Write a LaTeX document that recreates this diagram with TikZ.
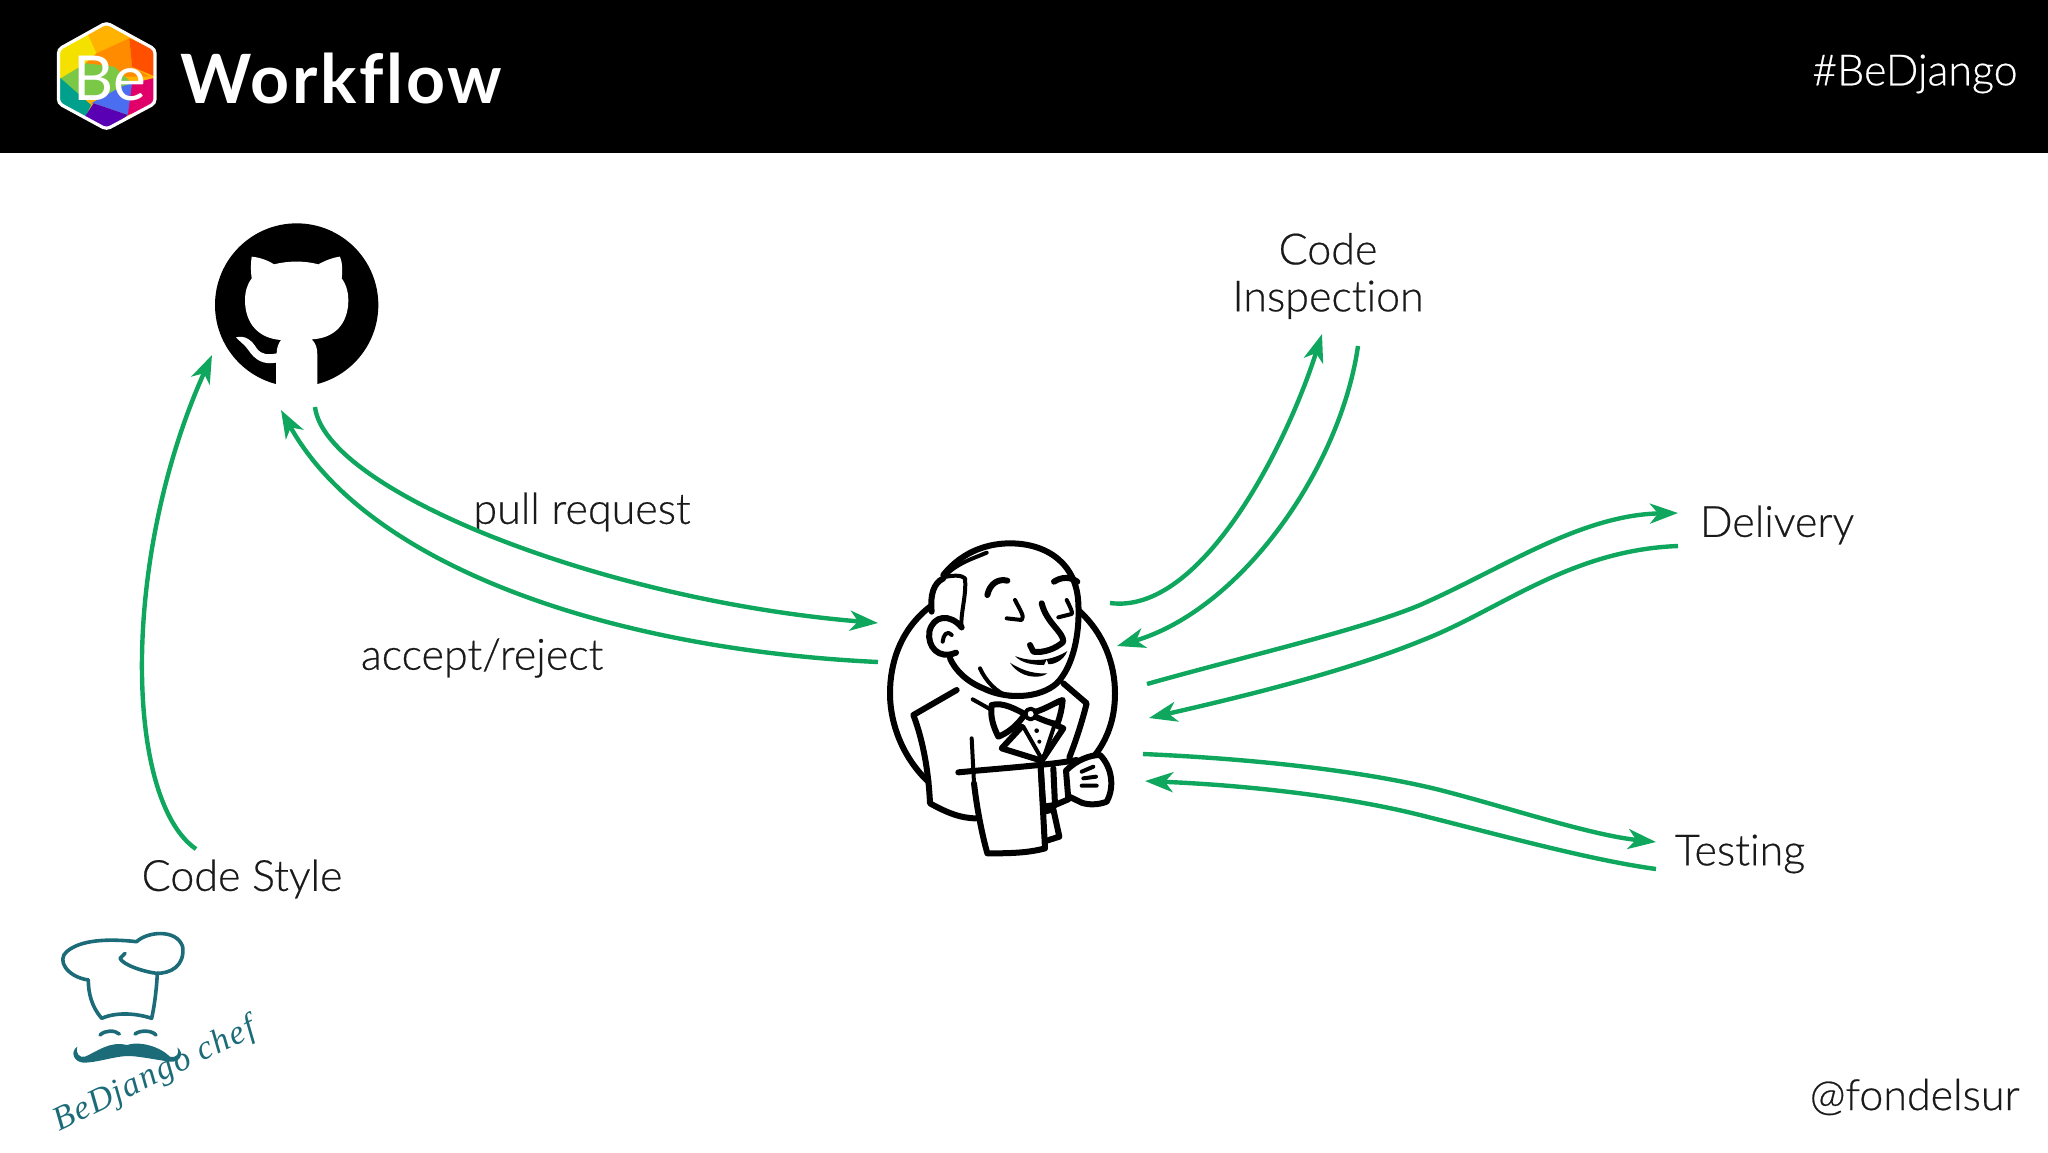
\documentclass[tikz,border=0pt]{standalone}
\usepackage{fontspec}
\setmainfont[Ligatures=NoCommon,FakeBold=0.5]{Lato Light}
\newfontfamily\titlefont[Ligatures=NoCommon,LetterSpace=4]{Lato Bold}
\newfontfamily\badgefont[Ligatures=NoCommon]{Lato}
\newfontfamily\cheffont[LetterSpace=5]{Liberation Serif}
\usetikzlibrary{arrows.meta}
\definecolor{ink}{HTML}{1A1A1A}
\definecolor{flow}{HTML}{0FA65E}
\definecolor{chef}{HTML}{1B6B78}
\tikzset{
  flowline/.style={draw=flow, line width=2.2pt, -{Stealth[length=14pt,width=10pt,inset=4pt]}},
  lbl/.style={text=ink, font=\fontsize{21.5}{23.5}\selectfont, inner sep=0pt, align=center},
  headlbl/.style={text=white, font=\fontsize{21.5}{23.5}\selectfont, inner sep=0pt},
  butler/.style={draw=black, line width=3pt, line cap=round, line join=round},
  butlerthin/.style={draw=black, line width=2pt, line cap=round, line join=round},
  hatline/.style={draw=chef, line width=1.8pt, line cap=round, line join=round}
}
\begin{document}
\begin{tikzpicture}[x=0.5pt,y=-0.5pt]
  \useasboundingbox (0,0) rectangle (2048,1152);
  \fill[black] (0,0) rectangle (2048,153);

  % rainbow badge
  \begin{scope}[xscale=1/2.8,yscale=1/3]
    \clip (298,68) -- (435,148) -- (435,310) -- (298,388) -- (162,310) -- (162,148) -- cycle;
    \fill[color={rgb,255:red,255;green,179;blue,0}] (150,50) rectangle (450,400);
    \fill[color={rgb,255:red,245;green,225;blue,0}] (150,150) -- (240,90) -- (270,160) -- (240,190) -- (170,235) -- (150,225) -- cycle;
    \fill[color={rgb,255:red,255;green,140;blue,0}] (270,160) -- (362,115) -- (370,200) -- (420,230) -- (300,230) -- (240,190) -- cycle;
    \fill[color={rgb,255:red,255;green,80;blue,0}] (362,115) -- (440,150) -- (440,232) -- (370,200) -- cycle;
    \fill[color={rgb,255:red,122;green,200;blue,70}] (170,235) -- (240,190) -- (320,200) -- (370,250) -- (340,290) -- (215,290) -- cycle;
    \fill[color={rgb,255:red,0;green,160;blue,140}] (150,225) -- (170,235) -- (255,315) -- (240,350) -- (150,320) -- cycle;
    \fill[color={rgb,255:red,75;green,110;blue,240}] (255,310) -- (340,260) -- (370,250) -- (375,300) -- (358,345) -- (262,310) -- cycle;
    \fill[color={rgb,255:red,90;green,0;blue,180}] (262,310) -- (358,345) -- (298,395) -- (235,355) -- cycle;
    \fill[color={rgb,255:red,225;green,0;blue,105}] (370,250) -- (440,232) -- (440,315) -- (358,345) -- cycle;
  \end{scope}
  \draw[white, line width=1.6pt, line join=round, rounded corners=2pt] (106.4,22.7) -- (155,49.3) -- (155,103.3) -- (106.4,129.3) -- (58.5,103.3) -- (58.5,49.3) -- cycle;
  \node[text=white, font=\badgefont\fontsize{31}{31}\selectfont, inner sep=0pt] (badge) at (110,78) {Be};

  \node[text=white, font=\titlefont\fontsize{34}{36}\selectfont, inner sep=0pt, anchor=west] (title) at (180,78) {Workflow};
  \node[headlbl, anchor=east] (tag) at (2018,74) {\#BeDjango};
  \node[lbl, anchor=east] (handle) at (2020,1097) {@fondelsur};

  % github mark
  \begin{scope}[shift={(200,210)},scale=1/3]
    \fill[black] (290,285) circle (245);
    \fill[white] (155,140) .. controls (180,142) and (205,152) .. (222,163)
      .. controls (265,152) and (315,152) .. (355,163)
      .. controls (375,152) and (400,142) .. (420,140)
      .. controls (428,160) and (428,185) .. (425,205)
      .. controls (440,225) and (445,250) .. (445,270)
      .. controls (445,340) and (405,385) .. (335,388)
      .. controls (348,400) and (352,415) .. (352,435)
      -- (352,540) -- (228,540) -- (228,458)
      .. controls (190,465) and (165,450) .. (145,420)
      .. controls (135,405) and (120,395) .. (108,382)
      .. controls (135,375) and (155,390) .. (170,415)
      .. controls (185,435) and (205,435) .. (230,430)
      .. controls (230,415) and (235,400) .. (243,390)
      .. controls (175,385) and (135,340) .. (135,270)
      .. controls (135,245) and (142,222) .. (155,205)
      .. controls (152,185) and (152,160) .. (155,140) -- cycle;
  \end{scope}

  % jenkins butler
  \begin{scope}[shift={(850,520)},scale=1/3]
    \draw[butler] (240,260) .. controls (150,330) and (120,430) .. (120,520)
      .. controls (120,620) and (165,720) .. (235,785);
    \draw[butler] (690,275) .. controls (760,340) and (795,430) .. (795,520)
      .. controls (795,600) and (770,660) .. (735,705);
    \draw[butler] (280,165) .. controls (340,90) and (420,70) .. (480,70)
      .. controls (590,70) and (680,130) .. (685,250)
      .. controls (690,340) and (670,440) .. (620,490)
      .. controls (570,535) and (470,540) .. (400,505)
      .. controls (350,485) and (315,450) .. (300,415);
    \draw[butlerthin] (285,168) .. controls (320,130) and (370,115) .. (410,98);
    \draw[butler] (280,175) .. controls (250,190) and (240,225) .. (245,275);
    \draw[butlerthin] (280,172) .. controls (310,165) and (335,165) .. (345,175)
      .. controls (350,230) and (330,280) .. (335,325);
    \draw[butler] (335,322) .. controls (300,280) and (250,285) .. (238,335)
      .. controls (232,380) and (265,420) .. (318,398);
    \draw[butlerthin] (278,365) .. controls (280,345) and (290,330) .. (305,345);
    \draw[butler] (412,225) .. controls (420,190) and (445,175) .. (472,182);
    \draw[butler] (612,185) .. controls (635,170) and (660,170) .. (682,185);
    \draw[butlerthin] (495,240) .. controls (510,270) and (525,290) .. (515,300) -- (470,295);
    \draw[butlerthin] (650,240) .. controls (660,260) and (670,280) .. (665,282) -- (625,292);
    \draw[butler] (575,250) .. controls (590,310) and (640,335) .. (640,365)
      .. controls (620,385) and (580,400) .. (550,395) -- (540,375);
    \fill[black] (495,408) .. controls (550,430) and (610,420) .. (652,393)
      .. controls (640,425) and (605,435) .. (595,432) -- (590,418) -- (582,435)
      .. controls (550,435) and (515,430) .. (495,408) -- cycle;
    \fill[black] (480,428) .. controls (520,455) and (560,462) .. (592,460)
      .. controls (570,478) and (510,475) .. (480,428) -- cycle;
    \draw[butlerthin] (390,445) .. controls (405,480) and (440,520) .. (480,530);
    % suit
    \draw[butler] (320,510) -- (190,585) .. controls (215,650) and (235,740) .. (240,850)
      .. controls (285,875) and (330,895) .. (378,895);
    \draw[butlerthin] (368,538) -- (425,570);
    \draw[butler] (640,490) -- (710,550) .. controls (695,610) and (675,670) .. (658,712);
    \draw[butler] (425,555) .. controls (460,545) and (500,570) .. (525,582)
      .. controls (500,620) and (470,640) .. (445,650)
      .. controls (430,620) and (420,590) .. (425,555) -- cycle;
    \draw[butler] (558,575) .. controls (590,565) and (620,545) .. (638,540)
      .. controls (635,570) and (630,590) .. (622,612)
      .. controls (600,610) and (580,600) .. (560,592);
    \draw[butlerthin] (542,582) circle (16);
    \draw[butlerthin] (520,620) -- (578,722) -- (612,620);
    \fill[black] (560,632) circle (7) (568,665) circle (6);
    \draw[butler] (515,620) -- (455,685) -- (575,722) -- (640,625) -- (610,612);
    % towel and hand
    \draw[butler] (325,757) .. controls (450,745) and (600,735) .. (680,720);
    \draw[butlerthin] (365,655) -- (372,790);
    \draw[butler] (372,790) .. controls (380,860) and (395,940) .. (412,1000)
      .. controls (470,1000) and (530,1000) .. (585,985) -- (572,740);
    \draw[butler] (572,740) -- (580,860) -- (615,855) -- (610,745);
    \draw[butler] (615,855) -- (655,838) -- (648,752);
    \draw[butler] (650,750) .. controls (680,720) and (720,705) .. (750,705)
      .. controls (785,740) and (795,800) .. (770,845)
      .. controls (745,855) and (715,855) .. (695,848) -- (658,830);
    \draw[butlerthin] (695,755) -- (730,740) (700,775) -- (738,770) (695,797) -- (740,797);
    \draw[butler] (582,875) -- (610,868) -- (628,950) -- (590,962);
  \end{scope}

  % chef logo
  \begin{scope}[shift={(20,910)},scale=1/3]
    \draw[hatline] (205,210) .. controls (140,200) and (110,150) .. (140,125)
      .. controls (180,90) and (260,85) .. (350,95)
      .. controls (380,65) and (470,55) .. (488,110)
      .. controls (495,170) and (450,190) .. (410,190)
      .. controls (370,185) and (310,165) .. (300,145) -- (315,130);
    \draw[hatline] (205,210) .. controls (205,250) and (215,290) .. (245,325)
      .. controls (290,305) and (350,310) .. (395,325)
      .. controls (405,280) and (410,230) .. (412,190);
    \draw[hatline] (240,375) .. controls (255,360) and (285,360) .. (298,372);
    \draw[hatline] (345,372) .. controls (360,360) and (395,360) .. (408,375);
    \fill[chef] (320,405) .. controls (360,392) and (420,410) .. (450,440)
      .. controls (470,445) and (480,430) .. (472,412)
      .. controls (495,430) and (480,458) .. (450,455)
      .. controls (400,448) and (350,437) .. (320,438)
      .. controls (280,440) and (230,458) .. (190,458)
      .. controls (160,455) and (150,425) .. (172,410)
      .. controls (165,430) and (180,445) .. (195,440)
      .. controls (230,425) and (270,392) .. (320,405) -- cycle;
    \node[text=chef, font=\cheffont\itshape\fontsize{17}{20}\selectfont, rotate=26, inner sep=0pt] (chefname) at (405,497) {BeDjango chef};
  \end{scope}

  \node[lbl] (pull) at (582,512) {pull request};
  \node[lbl] (accept) at (482,658) {accept/reject};
  \node[lbl] (style) at (242,879) {Code Style};
  \node[lbl] (inspect) at (1328,276) {Code\\Inspection};
  \node[lbl] (delivery) at (1777,525) {Delivery};
  \node[lbl] (testing) at (1740,854) {Testing};

  \coordinate (styleout) at (196,849);
  \coordinate (hubin) at (212,355);
  \coordinate (hubout) at (315,407);
  \coordinate (hubback) at (281,410);
  \coordinate (butlerin) at (878,623);
  \coordinate (butlerout) at (878,662);
  \coordinate (inspectfrom) at (1110,603);
  \coordinate (inspectin) at (1322,334);
  \coordinate (inspectout) at (1358,346);
  \coordinate (inspectback) at (1117,646);
  \coordinate (delivfrom) at (1147,684);
  \coordinate (delivin) at (1678,513);
  \coordinate (delivout) at (1678,546);
  \coordinate (delivback) at (1149,718);
  \coordinate (testfrom) at (1143,754);
  \coordinate (testin) at (1656,842);
  \coordinate (testout) at (1656,869);
  \coordinate (testback) at (1145,781);

  \draw[flowline] (styleout) .. controls (125,800) and (120,560) .. (hubin);
  \draw[flowline] (hubout) .. controls (325,490) and (600,600) .. (butlerin);
  \draw[flowline] (butlerout) .. controls (620,650) and (370,570) .. (hubback);
  \draw[flowline] (inspectfrom) .. controls (1200,615) and (1285,450) .. (inspectin);
  \draw[flowline] (inspectout) .. controls (1340,470) and (1240,610) .. (inspectback);
  \draw[flowline] (delivfrom) .. controls (1250,655) and (1360,630) .. (1420,605)
    .. controls (1500,570) and (1580,515) .. (delivin);
  \draw[flowline] (delivout) .. controls (1570,550) and (1500,610) .. (1423,640)
    .. controls (1350,670) and (1250,695) .. (delivback);
  \draw[flowline] (testfrom) .. controls (1280,760) and (1380,775) .. (1440,790)
    .. controls (1510,808) and (1590,835) .. (testin);
  \draw[flowline] (testout) .. controls (1590,860) and (1500,835) .. (1420,815)
    .. controls (1340,795) and (1240,785) .. (testback);
\end{tikzpicture}
\end{document}
